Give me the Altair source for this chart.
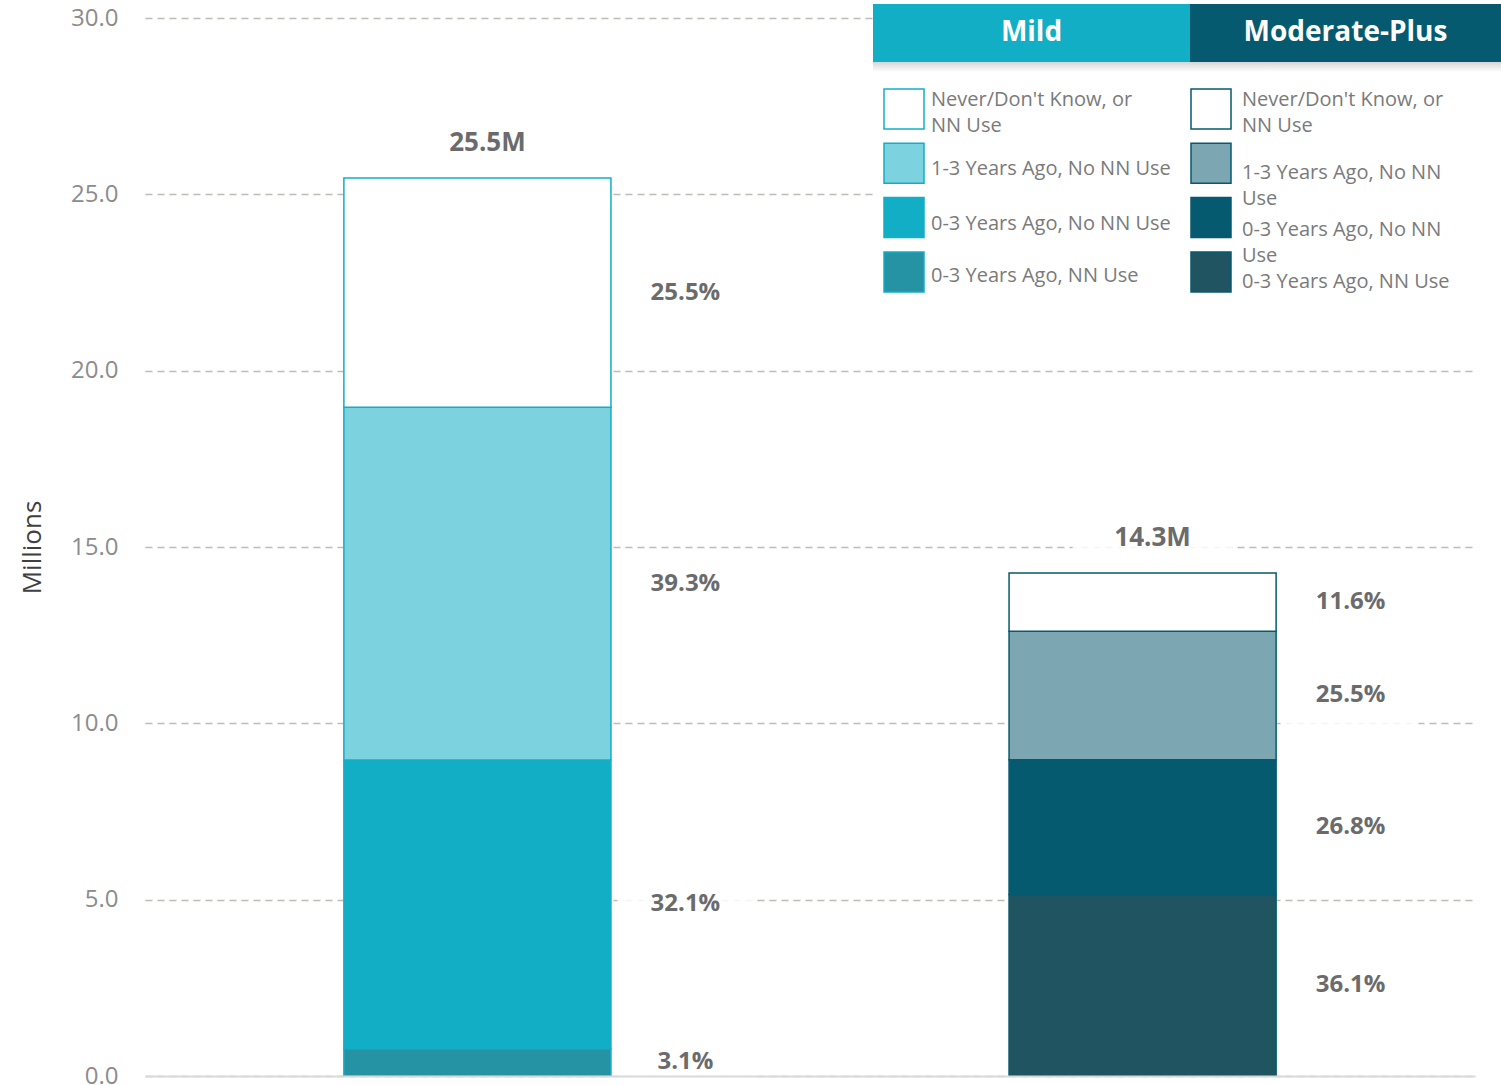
import altair as alt
import pandas as pd

# ---------------- data ----------------
groups = ["Mild", "Moderate-Plus"]
group_colors = ["#12AEC6", "#065A70"]
# stack order: bottom -> top
categories = [
    "0-3 Years Ago, NN Use",
    "0-3 Years Ago, No NN Use",
    "1-3 Years Ago, No NN Use",
    "Never/Don't Know, or NN Use",
]
mild_values = [0.78, 8.18, 10.0, 6.5]        # millions
moderate_values = [5.15, 3.82, 3.64, 1.65]   # millions

mild_fills = ["#2693A4", "#12AEC6", "#7DD2E0", "#FFFFFF"]
moderate_fills = ["#215461", "#065A70", "#7CA6B1", "#FFFFFF"]

# legend text (as wrapped in the legend columns), same order as categories
mild_legend_text = [
    "0-3 Years Ago, NN Use",
    "0-3 Years Ago, No NN Use",
    "1-3 Years Ago, No NN Use",
    "Never/Don't Know, or\nNN Use",
]
moderate_legend_text = [
    "0-3 Years Ago, NN Use",
    "0-3 Years Ago, No NN\nUse",
    "1-3 Years Ago, No NN\nUse",
    "Never/Don't Know, or\nNN Use",
]

y_ticks = [0, 5, 10, 15, 20, 25, 30]

# ---------------- tables ----------------
rows = []
all_values = [mild_values, moderate_values]
all_fills = [mild_fills, moderate_fills]
all_legend = [mild_legend_text, moderate_legend_text]
for gi, g in enumerate(groups):
    for ci, c in enumerate(categories):
        rows.append({
            "group": g,
            "category": c,
            "key": g + "|" + c,
            "value": all_values[gi][ci],
            "order": ci,
            "col": gi,
            "row": len(categories) - 1 - ci,
            "legend": all_legend[gi][ci],
        })
df = pd.DataFrame(rows)
keys = list(df["key"])
fills = mild_fills + moderate_fills
hdr = pd.DataFrame({"group": groups, "col": list(range(len(groups))), "color": group_colors})

FONT = "Open Sans"
LABEL_GRAY = "#6B6B6B"

x_enc = alt.X(
    "group:N",
    scale=alt.Scale(domain=groups, paddingInner=0.5985, paddingOuter=0.299),
    axis=alt.Axis(title=None, labels=False, ticks=False, domain=True,
                  domainColor="#D9D9D9", domainWidth=2, grid=False, zindex=1),
)
y_scale = alt.Scale(domain=[0, 30], nice=False)
y_axis = alt.Axis(
    title="Millions", values=y_ticks, format=".1f", grid=True,
    gridDash=[7, 5], gridColor="#BDBDB4", gridWidth=1.5,
    domain=False, ticks=False, labelPadding=27, labelFontSize=24,
    labelColor="#8C8C8C", labelFont=FONT, titleFont=FONT, titleFontSize=26,
    titleFontWeight="normal", titleColor="#404040", titleX=-100,
    titleBaseline="bottom",
)

fill_enc = alt.Fill("key:N", scale=alt.Scale(domain=keys, range=fills), legend=None)
stroke_enc = alt.Stroke("group:N", scale=alt.Scale(domain=groups, range=group_colors), legend=None)

bars = alt.Chart(df).mark_bar(strokeWidth=1.5).encode(
    x=x_enc,
    y=alt.Y("value:Q", stack="zero", scale=y_scale, axis=y_axis),
    fill=fill_enc,
    stroke=stroke_enc,
    order=alt.Order("order:Q", sort="ascending"),
)

stacked = alt.Chart(df).transform_stack(
    stack="value", groupby=["group"], as_=["y0", "y1"],
    sort=[alt.SortField("order", order="ascending")],
).transform_joinaggregate(
    total="sum(value)", groupby=["group"]
).transform_calculate(
    mid="(datum.y0 + datum.y1) / 2",
    pct="format(datum.value / datum.total, '.1%')",
)

box_path = "M-1,-0.45L1,-0.45L1,0.45L-1,0.45Z"
pct_boxes = stacked.mark_point(
    shape=box_path, filled=True, color="white", opacity=0.85, size=136 ** 2,
    xOffset=208, strokeWidth=0,
).encode(x=x_enc, y=alt.Y("mid:Q", scale=y_scale, axis=y_axis))

pct_text = stacked.mark_text(
    dx=208, fontSize=24, fontWeight="bold", color=LABEL_GRAY, font=FONT,
).encode(x=x_enc, y=alt.Y("mid:Q", scale=y_scale, axis=y_axis), text="pct:N")

totals = alt.Chart(df).transform_aggregate(
    total="sum(value)", groupby=["group"]
).transform_calculate(lbl="format(datum.total, '.1f') + 'M'")

total_boxes = totals.mark_point(
    shape=box_path, filled=True, color="white", opacity=0.85, size=160 ** 2,
    yOffset=-35, xOffset=10, strokeWidth=0,
).encode(x=x_enc, y=alt.Y("total:Q", scale=y_scale, axis=y_axis))

total_text = totals.mark_text(
    dy=-35, dx=10, fontSize=26, fontWeight="bold", color=LABEL_GRAY, font=FONT,
).encode(x=x_enc, y=alt.Y("total:Q", scale=y_scale, axis=y_axis), text="lbl:N")

# ---------------- custom legend (top right) ----------------
one = pd.DataFrame({"a": [0]})
legend_bg = alt.Chart(one).mark_rect(fill="white").encode(
    x=alt.value(728), x2=alt.value(1356), y=alt.value(-14), y2=alt.value(284)
)
shadow = alt.Chart(one).mark_rect(
    color=alt.Gradient(gradient="linear", x1=0, x2=0, y1=0, y2=1,
                       stops=[alt.GradientStop(color="#D5D5D5", offset=0),
                              alt.GradientStop(color="#FFFFFF", offset=1)])
).encode(x=alt.value(728), x2=alt.value(1356), y=alt.value(44), y2=alt.value(54))

hdr_base = alt.Chart(hdr).transform_calculate(
    hx="728 + datum.col * 317",
    hx2="datum.col == 0 ? 1045 : 1356",
    hc="(728 + datum.col * 317 + (datum.col == 0 ? 1045 : 1356)) / 2",
)
hdr_rect = hdr_base.mark_rect().encode(
    x=alt.X("hx:Q", scale=None), x2="hx2:Q",
    y=alt.value(-14), y2=alt.value(44),
    fill=alt.Fill("color:N", scale=None, legend=None),
)
hdr_text = hdr_base.mark_text(
    fontSize=28, fontWeight="bold", color="white", font=FONT, baseline="middle",
).encode(x=alt.X("hc:Q", scale=None), y=alt.value(15), text="group:N")

leg_base = alt.Chart(df).transform_calculate(
    sx="739 + datum.col * 307",
    sx2="779 + datum.col * 307",
    sy="71 + datum.row * 54.3",
    sy2="111 + datum.row * 54.3",
    tx="786 + datum.col * 311",
    ty="71 + datum.row * 54.3 + (datum.row == 0 ? 11 : (datum.col == 1 ? (datum.row == 2 ? 32 : 30) : (datum.row == 3 ? 24 : 26)))",
)
leg_sw = leg_base.mark_rect(strokeWidth=1.5).encode(
    x=alt.X("sx:Q", scale=None), x2="sx2:Q",
    y=alt.Y("sy:Q", scale=None), y2="sy2:Q",
    fill=fill_enc, stroke=stroke_enc,
)
leg_txt = leg_base.mark_text(
    align="left", baseline="middle", fontSize=20, color="#7A7A7A", font=FONT,
    lineBreak="\n", lineHeight=26,
).encode(x=alt.X("tx:Q", scale=None), y=alt.Y("ty:Q", scale=None), text="legend:N")

chart = alt.layer(
    pct_boxes, total_boxes, bars, pct_text, total_text,
    legend_bg, shadow, hdr_rect, hdr_text, leg_sw, leg_txt,
).properties(
    width=1330, height=1058,
    padding={"left": 145, "top": 18, "right": 26, "bottom": 9},
    autosize="none", background="white",
).configure_view(stroke=None)

chart.save("out.html", embed_options={"renderer": "svg", "actions": False})
